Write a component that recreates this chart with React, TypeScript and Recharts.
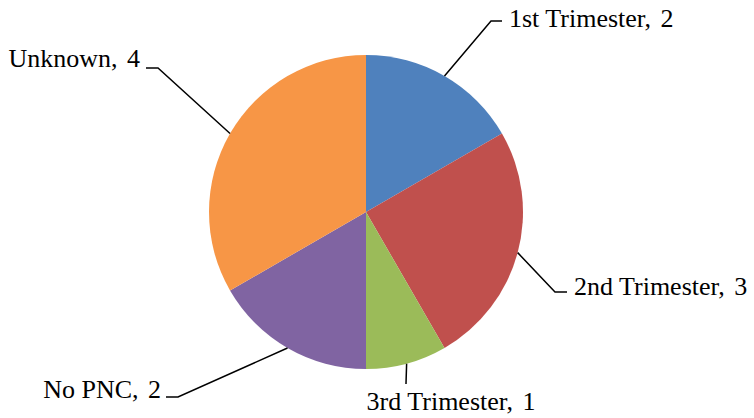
import { PieChart, Pie, Cell } from 'recharts';

const categories = ['1st Trimester', '2nd Trimester', '3rd Trimester', 'No PNC', 'Unknown'];
const counts = [2, 3, 1, 2, 4];

const COLORS = ['#4f81bd', '#c0504d', '#9bbb59', '#8064a2', '#f79646'];

// leader line elbow / end and text anchor, relative to the pie centre
const LEADERS = [
  { ex: 125, ey: -191, hx: 136, tx: 143, ty: -185, anchor: 'start' },
  { ex: 189, ey: 80, hx: 201, tx: 208, ty: 83, anchor: 'start' },
  { ex: 40, ey: 172, hx: 40, tx: 85, ty: 198, anchor: 'middle' },
  { ex: -188, ey: 185, hx: -200, tx: -205, ty: 186, anchor: 'end' },
  { ex: -208, ey: -144, hx: -220, tx: -226, ty: -145, anchor: 'end' },
];

const data = categories.map((name, i) => ({ name, value: counts[i] }));

const RAD = Math.PI / 180;
const CX = 366;
const CY = 212;
const R = 157;
const FONT = '"Liberation Serif", "Times New Roman", Times, serif';

const renderLabel = (props: any) => {
  const { midAngle, index, name, value } = props;
  const cx = props.cx ?? CX;
  const cy = props.cy ?? CY;
  const r = props.outerRadius ?? R;
  const l = LEADERS[index];
  const sx = cx + r * Math.cos(-midAngle * RAD);
  const sy = cy + r * Math.sin(-midAngle * RAD);
  return (
    <g key={`lbl-${index}`}>
      <polyline
        points={`${sx},${sy} ${cx + l.ex},${cy + l.ey} ${cx + l.hx},${cy + l.ey}`}
        fill="none"
        stroke="#000"
        strokeWidth={1.5}
      />
      <text
        x={cx + l.tx}
        y={cy + l.ty}
        textAnchor={l.anchor}
        style={{ fontFamily: FONT, fontSize: 26 }}
        fill="#000"
      >
        <tspan>{`${name}, `}</tspan>
        <tspan dx={3}>{value}</tspan>
      </text>
    </g>
  );
};

export default function App() {
  return (
    <div style={{ position: 'absolute', left: 0, top: 0, width: 754, height: 418, background: '#fff' }}>
      <PieChart width={754} height={418} margin={{ top: 0, right: 0, bottom: 0, left: 0 }}>
        <Pie
          data={data}
          dataKey="value"
          nameKey="name"
          cx={CX}
          cy={CY}
          outerRadius={R}
          startAngle={90}
          endAngle={-270}
          stroke="none"
          label={renderLabel}
          labelLine={false}
          isAnimationActive={false}
        >
          {data.map((entry, index) => (
            <Cell key={`cell-${index}`} fill={COLORS[index % COLORS.length]} />
          ))}
        </Pie>
      </PieChart>
    </div>
  );
}
